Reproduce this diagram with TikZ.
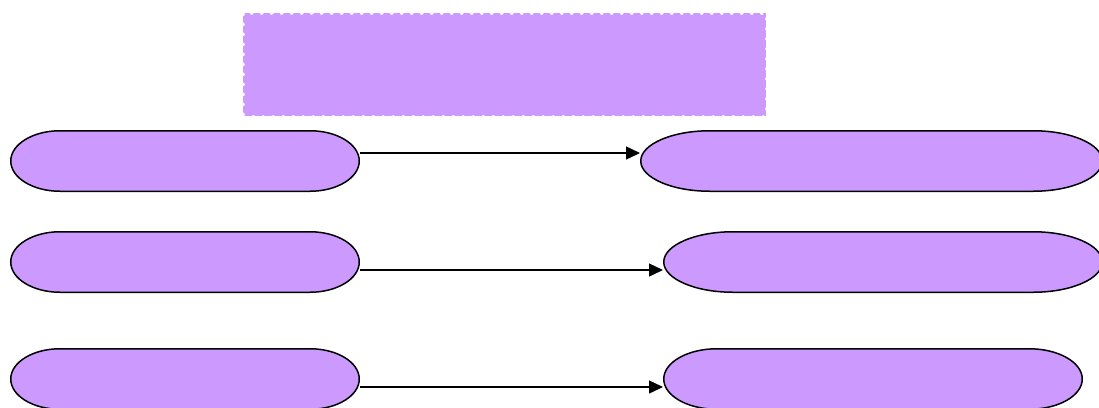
\documentclass[tikz,border=0pt]{standalone}
\usepackage{tikz}
\usetikzlibrary{arrows.meta}
\definecolor{lilac}{HTML}{CC99FF}

\begin{document}
\begin{tikzpicture}[
    x=1pt, y=-1pt,
    every node/.append style={inner sep=0pt, outer sep=0pt},
    pill/.style={minimum height=62pt},
    headbox/.style={fill=lilac, draw=white, line width=3pt, line cap=round,
        dash pattern=on 0.6pt off 9.4pt, minimum width=523pt, minimum height=103pt},
    pillline/.style={fill=lilac, draw=black, line width=1.5pt},
    flow/.style={-{Triangle[length=14pt,width=13pt]}, line width=1.4pt}
]
    \useasboundingbox (0,0) rectangle (1099,407);
    \node[headbox] (head) at (504.5,64.5) {};
    \node[pill, minimum width=350pt] (l1) at (185,161) {};
    \node[pill, minimum width=350pt] (l2) at (185,262) {};
    \node[pill, minimum width=350pt] (l3) at (185,379) {};
    \node[pill, minimum width=463pt] (r1) at (871.5,161) {};
    \node[pill, minimum width=440pt] (r2) at (883,262) {};
    \node[pill, minimum width=420pt] (r3) at (873,379) {};
    \foreach \n/\r in {l1/50,l2/50,l3/50,r1/70,r2/70,r3/54}
        \draw[pillline] ([xshift=\r,yshift=-0.75pt]\n.north west) -- ([xshift=-\r,yshift=-0.75pt]\n.north east)
            arc[start angle=90, end angle=-90, x radius=\r pt-0.75pt, y radius=30.25pt]
            -- ([xshift=\r,yshift=0.75pt]\n.south west)
            arc[start angle=270, end angle=90, x radius=\r pt-0.75pt, y radius=30.25pt] -- cycle;
    \draw[flow] ([yshift=8pt]l1.east) -- ([yshift=8pt]r1.west);
    \foreach \a/\b in {l2/r2,l3/r3}
        \draw[flow] ([yshift=-8pt]\a.east) -- ([yshift=-8pt]\b.west);
\end{tikzpicture}
\end{document}
